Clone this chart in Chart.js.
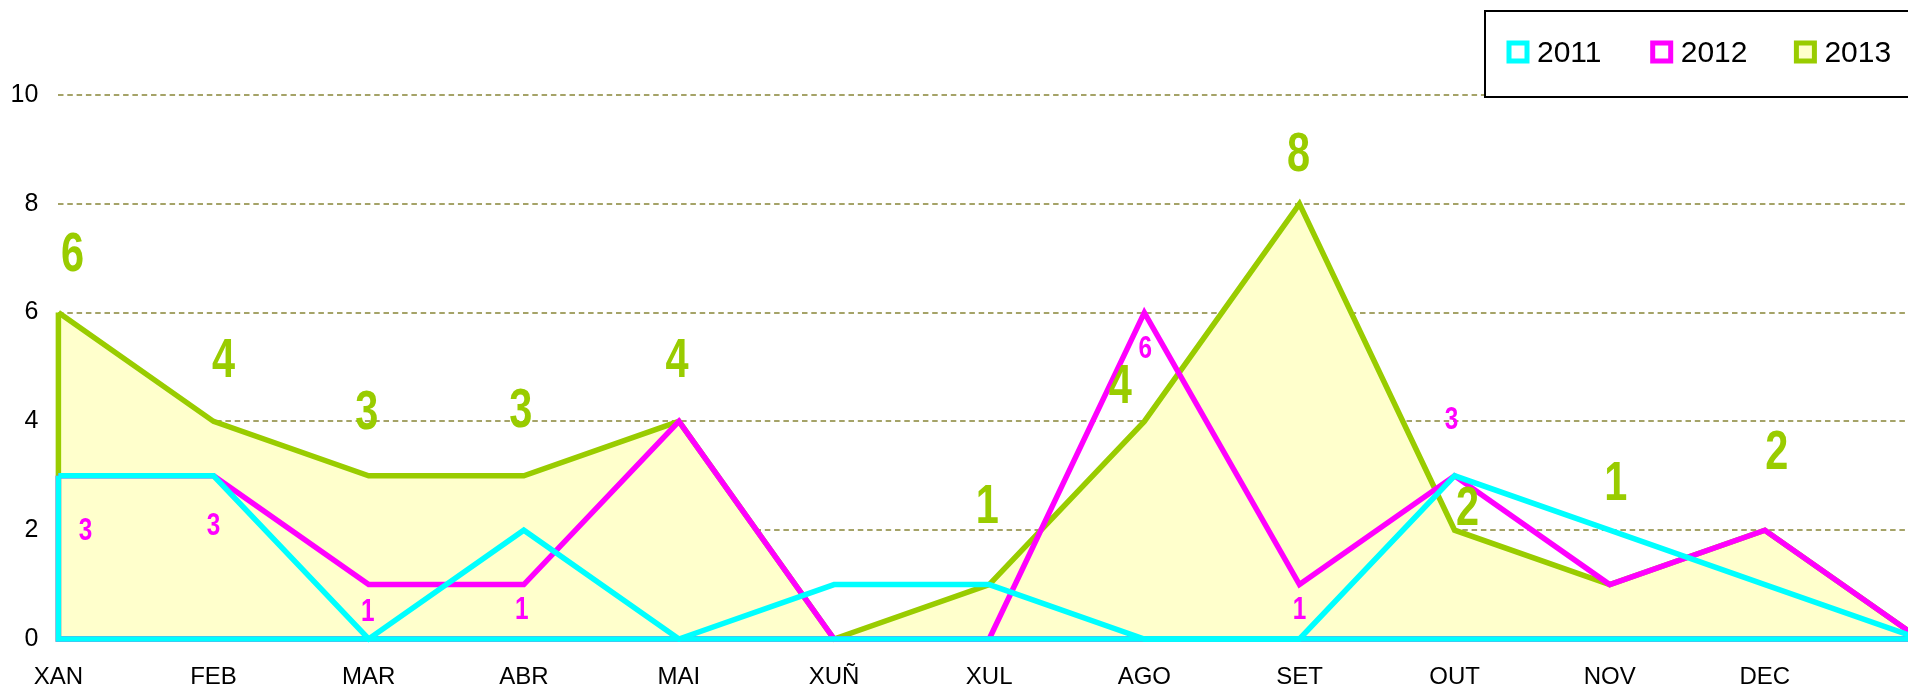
<!DOCTYPE html>
<html>
<head>
<meta charset="utf-8">
<script src="https://cdn.jsdelivr.net/npm/chart.js@4/dist/chart.umd.min.js"></script>
<style>
  html, body { margin: 0; padding: 0; background: #ffffff; overflow: hidden; width: 1908px; height: 689px; }
  #wrap { position: relative; width: 1920px; height: 689px; }
  canvas { display: block; }
</style>
</head>
<body>
<div id="wrap"><canvas id="c" width="1920" height="689"></canvas></div>
<script>
// ---- data ----
const months = ['XAN','FEB','MAR','ABR','MAI','XUÑ','XUL','AGO','SET','OUT','NOV','DEC',''];
const seriesNames = ['2011','2012','2013'];
const values2011 = [3,3,0,2,0,1,1,0,0,3,2,1,0];
const values2012 = [3,3,1,1,4,0,0,6,1,3,1,2,0];
const values2013 = [6,4,3,3,4,0,1,4,8,2,1,2,0];
const yTicks = [0,2,4,6,8,10];

// label placement (pixel offsets from the point; null = no label)
const labelOffsets2012 = [[27,53],[0,48],[-1,26],[-2,24],null,null,null,[1,35],[0,24],[-3,-58],null,null,null];
const labelOffsets2013 = [[14,-59],[10,-62],[-2,-64],[-3,-66],[-2,-62],null,[-2,-79],[-24,-36],[-1,-50],[13,-23],[6,-102],[12,-79],null];

const CYAN = '#00FFFF', MAGENTA = '#FF00FF', GREEN = '#99CC00', PALE = '#FFFFCC';

// closing edges of the area shapes (left vertical and baseline)
const areaEdges = {
  id: 'areaEdges',
  afterDatasetDraw(chart, args) {
    const ds = chart.data.datasets[args.index];
    const meta = args.meta;
    const y = chart.scales.y;
    const pts = meta.data;
    if (!pts.length) return;
    const ctx = chart.ctx;
    const y0 = y.getPixelForValue(0);
    ctx.save();
    ctx.strokeStyle = ds.borderColor;
    ctx.lineWidth = ds.borderWidth;
    ctx.lineJoin = 'miter';
    ctx.beginPath();
    ctx.moveTo(pts[pts.length - 1].x, y0);
    ctx.lineTo(pts[0].x, y0);
    ctx.lineTo(pts[0].x, pts[0].y);
    ctx.stroke();
    ctx.restore();
  }
};

// value labels
const valueLabels = {
  id: 'valueLabels',
  afterDatasetsDraw(chart) {
    const ctx = chart.ctx;
    const cfgs = [
      { idx: 1, offs: labelOffsets2012, color: MAGENTA, size: 32, sx: 0.76 },
      { idx: 2, offs: labelOffsets2013, color: GREEN, size: 56, sx: 0.74 }
    ];
    cfgs.forEach(c => {
      const meta = chart.getDatasetMeta(c.idx);
      const vals = chart.data.datasets[c.idx].data;
      meta.data.forEach((p, i) => {
        const o = c.offs[i];
        if (!o) return;
        ctx.save();
        ctx.translate(p.x + o[0], p.y + o[1]);
        ctx.scale(c.sx, 1);
        ctx.font = 'bold ' + c.size + 'px "Liberation Sans", Arial, sans-serif';
        ctx.fillStyle = c.color;
        ctx.textAlign = 'center';
        ctx.textBaseline = 'middle';
        ctx.fillText(String(vals[i]), 0, 2);
        ctx.restore();
      });
    });
  }
};

// legend box
const legendBox = {
  id: 'legendBox',
  afterDraw(chart) {
    const ctx = chart.ctx;
    ctx.save();
    ctx.fillStyle = '#ffffff';
    ctx.fillRect(1485, 11, 520, 86);
    ctx.strokeStyle = '#000000';
    ctx.lineWidth = 2;
    ctx.strokeRect(1485, 11, 520, 86);
    const fills = ['#ffffff', '#ffffff', PALE];
    chart.data.datasets.forEach((ds, i) => {
      const x = 1509 + i * 143.7;
      const yc = 52;
      ctx.fillStyle = fills[i];
      ctx.strokeStyle = ds.borderColor;
      ctx.lineWidth = 5;
      ctx.beginPath();
      ctx.rect(x, yc - 9, 18, 18);
      ctx.fill();
      ctx.stroke();
      ctx.fillStyle = '#000000';
      ctx.font = '30px "Liberation Sans", Arial, sans-serif';
      ctx.textAlign = 'left';
      ctx.textBaseline = 'middle';
      ctx.fillText(ds.label, x + 28, yc + 2);
    });
    ctx.restore();
  }
};

new Chart(document.getElementById('c'), {
  type: 'line',
  data: {
    labels: months,
    datasets: [
      { label: seriesNames[0], data: values2011, borderColor: CYAN, backgroundColor: 'rgba(0,0,0,0)', borderWidth: 5.5, fill: false, tension: 0, pointRadius: 0, borderJoinStyle: 'miter', clip: false },
      { label: seriesNames[1], data: values2012, borderColor: MAGENTA, backgroundColor: 'rgba(0,0,0,0)', borderWidth: 5.5, fill: false, tension: 0, pointRadius: 0, borderJoinStyle: 'miter', clip: false },
      { label: seriesNames[2], data: values2013, borderColor: GREEN, backgroundColor: PALE, borderWidth: 5.5, fill: 'origin', tension: 0, pointRadius: 0, borderJoinStyle: 'miter', clip: false }
    ]
  },
  options: {
    responsive: false,
    animation: false,
    devicePixelRatio: 1,
    layout: { padding: { left: 0, right: 0, top: 95, bottom: 0 }, autoPadding: false },
    plugins: {
      legend: { display: false },
      tooltip: { enabled: false },
      filler: { drawTime: 'beforeDatasetDraw' }
    },
    scales: {
      x: {
        type: 'category',
        offset: false,
        border: { display: false },
        grid: { display: false, drawTicks: false },
        afterFit(scale) { scale.height = 50; scale.paddingLeft = 0; scale.paddingRight = 0; },
        ticks: {
          autoSkip: false, maxRotation: 0, minRotation: 0,
          color: '#000000', padding: 26,
          font: { family: '"Liberation Sans", Arial, sans-serif', size: 24, lineHeight: 1 }
        }
      },
      y: {
        min: 0, max: 10,
        afterBuildTicks(scale) { scale.ticks = yTicks.map(v => ({ value: v })); },
        afterFit(scale) { scale.width = 58.4; scale.paddingTop = 0; scale.paddingBottom = 0; },
        grid: {
          drawTicks: false,
          color: ctx => (ctx.tick && ctx.tick.value === 0) ? 'rgba(0,0,0,0)' : '#A5A368',
          lineWidth: 2
        },
        border: { display: false, dash: [5.5, 3.8] },
        ticks: {
          color: '#000000', padding: 20,
          font: { family: '"Liberation Sans", Arial, sans-serif', size: 25, lineHeight: 1 }
        }
      }
    }
  },
  plugins: [areaEdges, valueLabels, legendBox]
});
</script>
</body>
</html>
